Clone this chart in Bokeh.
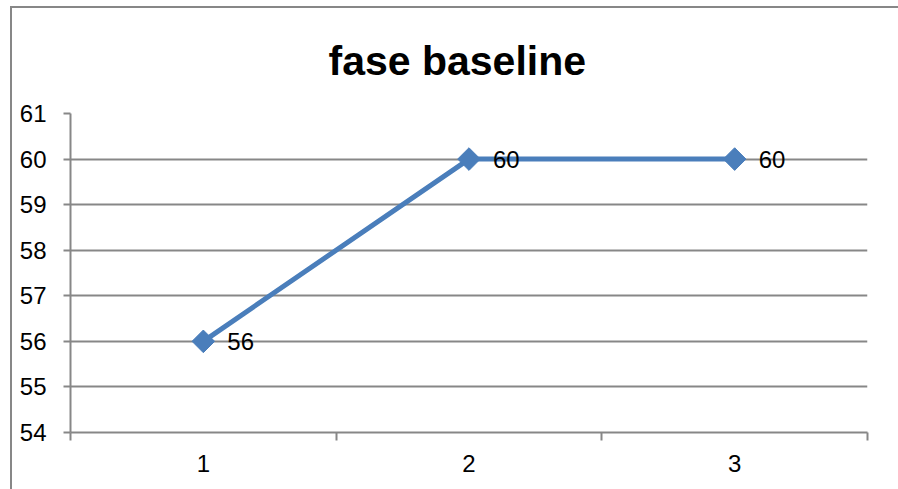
import math
from bokeh.plotting import figure
from bokeh.models import Range1d, FixedTicker, ColumnDataSource, InlineStyleSheet
from bokeh.core.properties import value
from bokeh.embed import file_html
from bokeh.resources import INLINE

title = "fase baseline"
categories = [1, 2, 3]
values = [56, 60, 60]
labels = ["56", "60", "60"]
y_ticks = [54, 55, 56, 57, 58, 59, 60, 61]

FONT = "Liberation Sans"
GRAY = "#878787"
BLUE = "#4A7EBB"

p = figure(width=898, height=489, output_backend="svg", toolbar_location=None,
           frame_width=797, frame_height=319,
           min_border_left=70, min_border_right=31, min_border_top=113, min_border_bottom=57,
           x_range=Range1d(0.5, 3.5), y_range=Range1d(54, 61))

p.title.text = title
p.title.text_font = FONT
p.title.text_font_size = "41px"
p.title.text_font_style = "bold"
p.title.text_line_height = 0.6
p.title.align = "left"
p.title.vertical_align = "bottom"
p.title.offset = 258
p.title.text_color = "black"
p.title.standoff = 60

p.outline_line_color = None
p.background_fill_color = "white"
p.border_fill_color = "white"

# x axis
p.xaxis.ticker = FixedTicker(ticks=categories, minor_ticks=[0.5, 1.5, 2.5, 3.5])
p.xaxis.major_tick_out = 0
p.xaxis.major_tick_in = 0
p.xaxis.minor_tick_out = 8
p.xaxis.minor_tick_in = 0
p.xaxis.minor_tick_line_color = GRAY
p.xaxis.minor_tick_line_width = 2
p.xaxis.axis_line_color = GRAY
p.xaxis.axis_line_width = 2
p.xaxis.major_label_standoff = 14
p.xaxis.major_label_text_font = FONT
p.xaxis.major_label_text_font_size = "24px"
p.xaxis.major_label_text_color = "black"

# y axis
p.yaxis.ticker = FixedTicker(ticks=y_ticks)
p.yaxis.major_tick_out = 7
p.yaxis.major_tick_in = 0
p.yaxis.minor_tick_line_color = None
p.yaxis.major_tick_line_color = GRAY
p.yaxis.major_tick_line_width = 2
p.yaxis.axis_line_color = GRAY
p.yaxis.axis_line_width = 2
p.yaxis.major_label_standoff = 17
p.yaxis.major_label_text_font = FONT
p.yaxis.major_label_text_font_size = "24px"
p.yaxis.major_label_text_color = "black"

p.xgrid.grid_line_color = None
p.ygrid.ticker = FixedTicker(ticks=y_ticks)
p.ygrid.grid_line_color = GRAY
p.ygrid.grid_line_width = 2

src = ColumnDataSource(dict(x=categories, y=values, label=labels))
p.line("x", "y", source=src, line_color=BLUE, line_width=5)
p.scatter("x", "y", source=src, marker="square", angle=math.pi / 4, size=16,
          fill_color=BLUE, line_color=BLUE)
p.text("x", "y", text="label", source=src, x_offset=24, text_baseline="middle", text_align="left",
       text_font=value(FONT), text_font_size="24px", text_color="black")

p.stylesheets.append(InlineStyleSheet(css="""
:host::after {
  content: "";
  position: absolute;
  left: 10px;
  top: 6px;
  right: 0;
  bottom: 0;
  border-left: 2px solid #878787;
  border-top: 2px solid #878787;
  pointer-events: none;
}
"""))

open("out.html", "w").write(file_html(p, INLINE))
